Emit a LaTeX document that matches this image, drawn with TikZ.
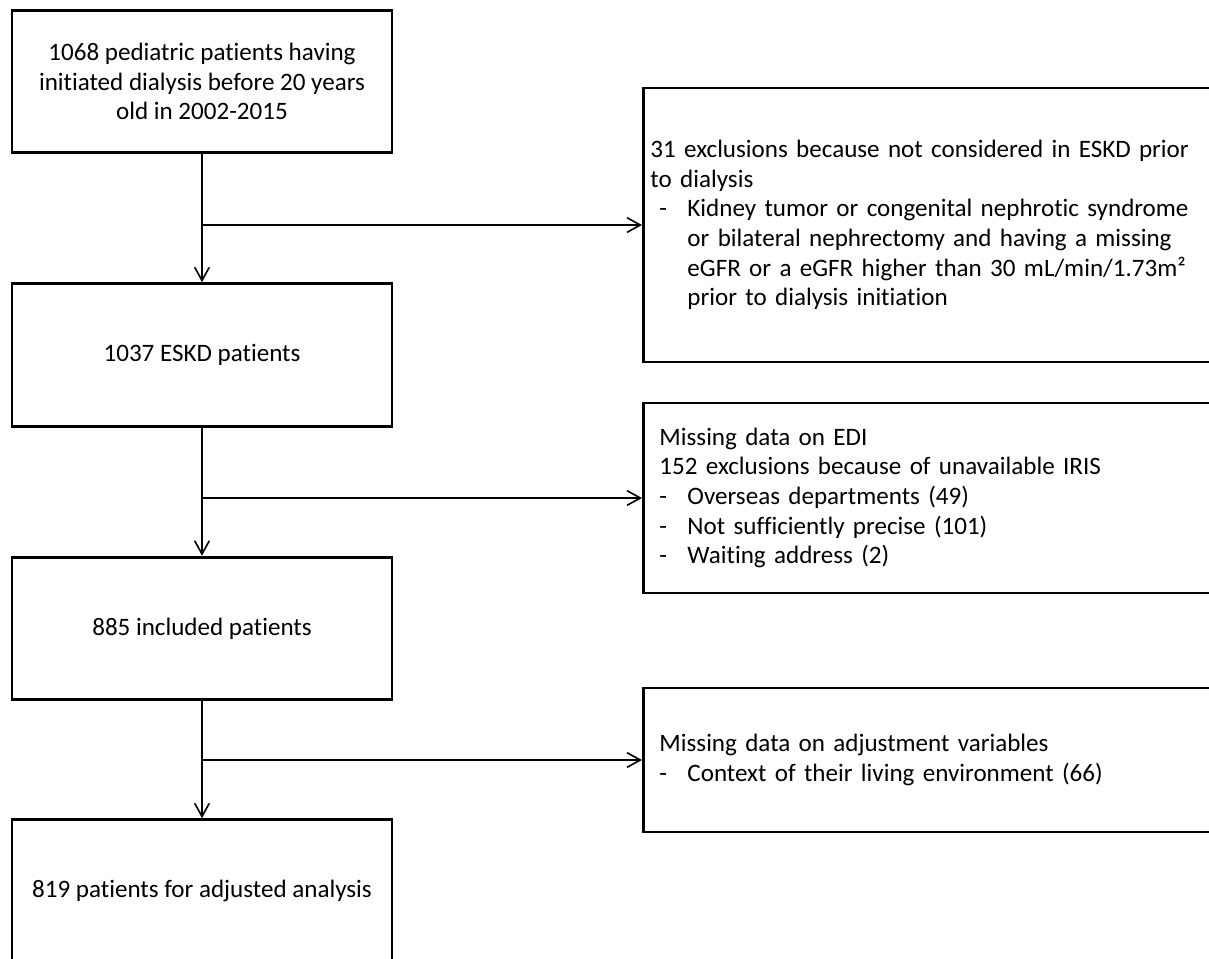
\documentclass[tikz,border=0pt]{standalone}
\usepackage{fontspec}
\setmainfont{Carlito}[Ligatures={TeX,NoCommon}]
\usetikzlibrary{arrows.meta}

\newcommand{\dashitem}{\makebox[21pt][l]{-}}
\newcommand{\contline}{\hspace*{21pt}}

\begin{document}
\begin{tikzpicture}[
  x=0.75pt, y=-0.75pt,
  stage/.style={rectangle, draw=black, line width=2.2pt, minimum width=285pt, minimum height=107pt, align=center, inner sep=4pt, font=\fontsize{18.8}{22.2}\selectfont},
  excl/.style={rectangle, draw=black, line width=2.2pt, anchor=west, text width=440pt, inner xsep=12pt, align=left, font=\fontsize{18.8}{22.2}\selectfont},
  arr/.style={-{Straight Barb[length=10pt, width=11pt]}, line width=1.2pt}
]
  \useasboundingbox (0, 0) rectangle (1209, 958);
  \node[stage] (cohort) at (202, 81.5) {1068 pediatric patients having\\initiated dialysis before 20 years\\old in 2002-2015};
  \node[stage] (eskd) at (202, 355) {1037 ESKD patients};
  \node[stage] (incl) at (202, 628.5) {885 included patients};
  \node[stage] (adj) at (202, 891) {819 patients for adjusted analysis};
  \node[excl, minimum height=205.5pt] (exclesk) at (642, 225) {\hspace*{-6.75pt}31 exclusions because not considered in ESKD prior\\
    \hspace*{-6.75pt}to dialysis\\
    \dashitem Kidney tumor or congenital nephrotic syndrome\\
    \contline or bilateral nephrectomy and having a missing\\
    \contline eGFR or a eGFR higher than 30 mL/min/1.73m²\\
    \contline prior to dialysis initiation};
  \node[excl, minimum height=142.5pt] (excledi) at (642, 498) {Missing data on EDI\\
    152 exclusions because of unavailable IRIS\\
    \dashitem Overseas departments (49)\\
    \dashitem Not sufficiently precise (101)\\
    \dashitem Waiting address (2)};
  \node[excl, minimum height=108pt] (excladj) at (642, 760) {Missing data on adjustment variables\\
    \dashitem Context of their living environment (66)};
  \coordinate (split1) at (cohort.south |- exclesk.west);
  \coordinate (split2) at (eskd.south |- excledi.west);
  \coordinate (split3) at (incl.south |- excladj.west);
  \draw[arr] (cohort) -- (eskd);
  \draw[arr] (eskd) -- (incl);
  \draw[arr] (incl) -- (adj);
  \draw[arr] (split1) -- (exclesk);
  \draw[arr] (split2) -- (excledi);
  \draw[arr] (split3) -- (excladj);
\end{tikzpicture}
\end{document}
